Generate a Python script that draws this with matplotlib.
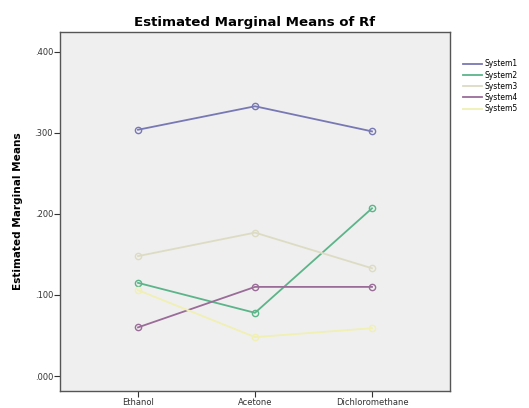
import matplotlib
matplotlib.use("Agg")
import matplotlib.pyplot as plt
from matplotlib.ticker import FuncFormatter

categories = ["Ethanol", "Acetone", "Dichloromethane"]
series_names = ["System1", "System2", "System3", "System4", "System5"]
system1 = [0.304, 0.333, 0.302]
system2 = [0.115, 0.078, 0.207]
system3 = [0.148, 0.177, 0.133]
system4 = [0.060, 0.110, 0.110]
system5 = [0.106, 0.048, 0.059]
yticks = [0.0, 0.1, 0.2, 0.3, 0.4]

colors = ["#7878b4", "#5cb489", "#dcdcc4", "#9a6c98", "#f0f0b4"]
values = [system1, system2, system3, system4, system5]

fig = plt.figure(figsize=(5.29, 4.08), dpi=100)
ax = fig.add_axes([0.1134, 0.0417, 0.7373, 0.8799])
ax.set_facecolor("#efefef")

x = list(range(len(categories)))
for name, vals, c in zip(series_names, values, colors):
    ax.plot(x, vals, color=c, lw=1.3, marker="o", ms=4.5, mfc="none", mec=c,
            mew=1.0, label=name)

ax.set_xlim(-0.667, 2.667)
ax.set_ylim(-0.0185, 0.4247)
ax.set_xticks(x)
ax.set_xticklabels(categories, fontsize=6, color="#333333")
ax.set_yticks(yticks)
ax.yaxis.set_major_formatter(FuncFormatter(lambda v, p: ("%.3f" % v)[1:] if v >= 0 else "%.3f" % v))
ax.tick_params(axis="y", labelsize=6, length=4, width=0.8, colors="#333333", pad=1)
ax.tick_params(axis="x", length=4, width=0.8, pad=1, colors="#333333")
for s in ax.spines.values():
    s.set_color("#555555")
    s.set_linewidth(1.0)

ax.set_ylabel("Estimated Marginal Means", fontsize=7.6, fontweight="bold", labelpad=8)
ax.set_title("Estimated Marginal Means of Rf", fontsize=9.6, fontweight="bold", pad=4)

leg = ax.legend(loc="upper left", bbox_to_anchor=(1.033, 0.924), frameon=False,
                fontsize=5.5, handlelength=2.5, labelspacing=0.3, handletextpad=0.3,
                borderaxespad=0, borderpad=0)
for h in leg.legend_handles:
    h.set_marker("")

fig.savefig("out.png", dpi=100)
